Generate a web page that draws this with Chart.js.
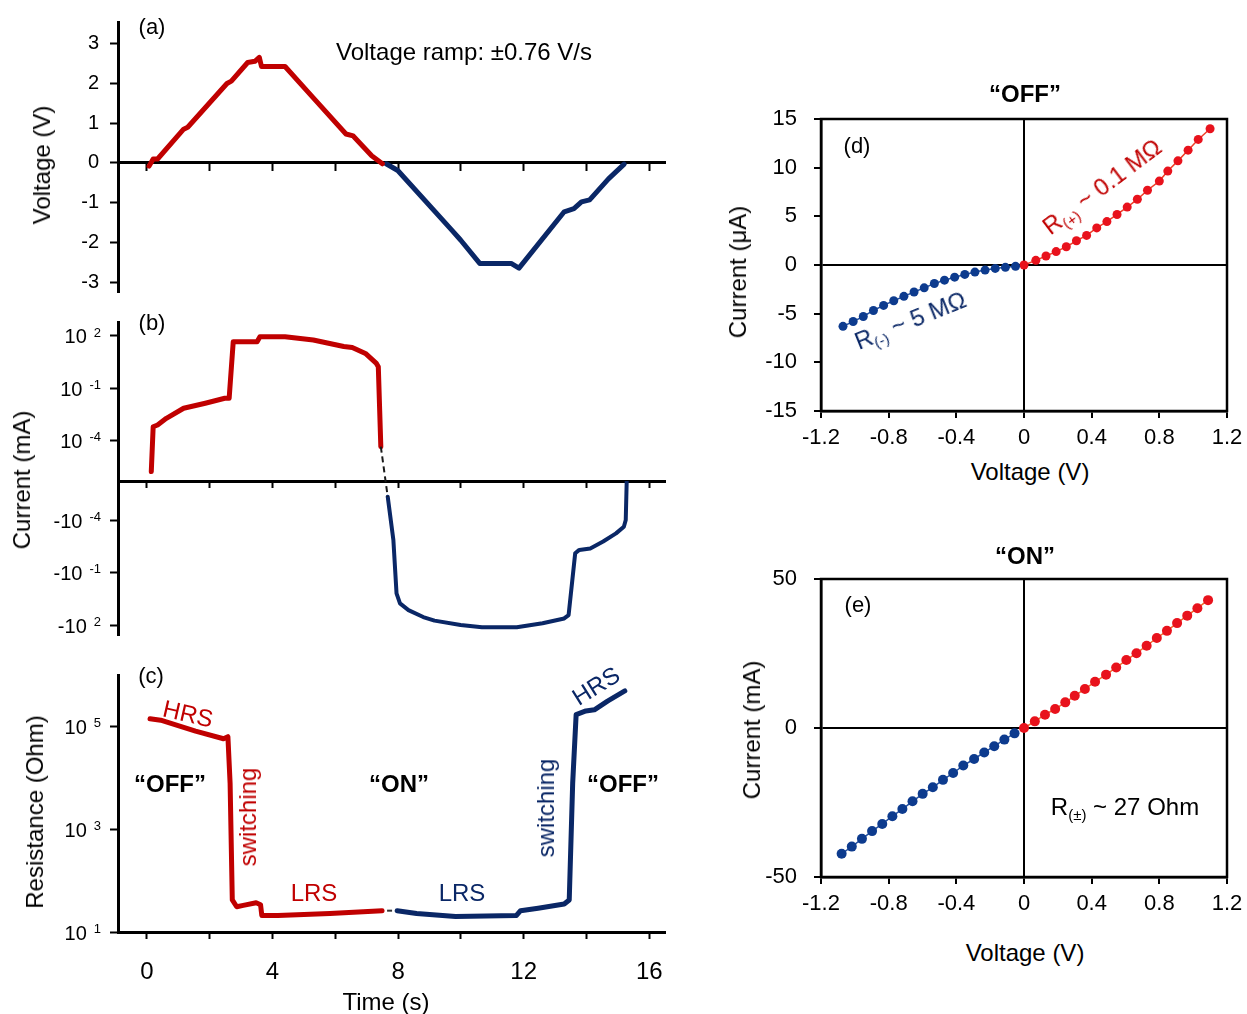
<!DOCTYPE html>
<html>
<head>
<meta charset="utf-8">
<script src="https://cdn.jsdelivr.net/npm/chart.js@4.4.1/dist/chart.umd.min.js"></script>
<style>
  body { margin: 0; background: #fff; }
  #wrap { position: relative; width: 1247px; height: 1014px; overflow: hidden; font-family: "Liberation Sans", Arial, sans-serif; }
  #wrap canvas { position: absolute; }
  .lab { position: absolute; transform: translate(-50%, -50%); white-space: nowrap; font-size: 24px; line-height: 1; color: #000; }
  .rot { transform: translate(-50%, -50%) rotate(-90deg); }
  .bold { font-weight: bold; }
  .red { color: #c00000; }
  .navy { color: #0a2766; }
  sub { font-size: 15px; vertical-align: -5px; }
</style>
</head>
<body>
<div id="wrap">
  <canvas id="cA" width="680" height="300" style="left:0;top:0"></canvas>
  <canvas id="cB1" width="680" height="220" style="left:0;top:300px"></canvas>
  <canvas id="cB2" width="680" height="170" style="left:0;top:481px"></canvas>
  <canvas id="cC" width="680" height="364" style="left:0;top:650px"></canvas>
  <canvas id="cD" width="547" height="356" style="left:700px;top:100px"></canvas>
  <canvas id="cE" width="547" height="362" style="left:700px;top:560px"></canvas>

  <!-- panel a -->
  <div class="lab" style="left:152px;top:27px;font-size:22px">(a)</div>
  <div class="lab" style="left:464px;top:52px">Voltage ramp: ±0.76 V/s</div>
  <div class="lab rot" style="left:42px;top:165px">Voltage (V)</div>
  <!-- panel b -->
  <div class="lab" style="left:152px;top:323px;font-size:22px">(b)</div>
  <div class="lab rot" style="left:22px;top:480px">Current (mA)</div>
  <!-- panel c -->
  <div class="lab" style="left:151px;top:676px;font-size:22px">(c)</div>
  <div class="lab rot" style="left:35px;top:812px">Resistance (Ohm)</div>
  <div class="lab" style="left:386px;top:1002px">Time (s)</div>
  <div class="lab red" style="left:188px;top:714px;transform:translate(-50%,-50%) rotate(13deg)">HRS</div>
  <div class="lab bold" style="left:170px;top:784px">“OFF”</div>
  <div class="lab red rot" style="left:248px;top:817px">switching</div>
  <div class="lab red" style="left:314px;top:893px">LRS</div>
  <div class="lab bold" style="left:399px;top:784px">“ON”</div>
  <div class="lab navy" style="left:462px;top:893px">LRS</div>
  <div class="lab navy rot" style="left:546px;top:808px">switching</div>
  <div class="lab navy" style="left:596px;top:686px;transform:translate(-50%,-50%) rotate(-32deg)">HRS</div>
  <div class="lab bold" style="left:623px;top:784px">“OFF”</div>
  <!-- panel d -->
  <div class="lab bold" style="left:1025px;top:94px">“OFF”</div>
  <div class="lab" style="left:857px;top:146px;font-size:22px">(d)</div>
  <div class="lab rot" style="left:738px;top:272px">Current (μA)</div>
  <div class="lab" style="left:1030px;top:472px">Voltage (V)</div>
  <div class="lab red" style="left:1103px;top:188px;transform:translate(-50%,-50%) rotate(-37deg)">R<sub>(+)</sub> ~ 0.1 MΩ</div>
  <div class="lab navy" style="left:911px;top:322px;transform:translate(-50%,-50%) rotate(-22deg)">R<sub>(-)</sub> ~ 5 MΩ</div>
  <!-- panel e -->
  <div class="lab bold" style="left:1025px;top:556px">“ON”</div>
  <div class="lab" style="left:858px;top:605px;font-size:22px">(e)</div>
  <div class="lab rot" style="left:752px;top:730px">Current (mA)</div>
  <div class="lab" style="left:1025px;top:953px">Voltage (V)</div>
  <div class="lab" style="left:1125px;top:808px">R<sub>(±)</sub> ~ 27 Ohm</div>
</div>

<script>
// ---- data ----
// (a) voltage vs time
const aTimeRed = [0.07, 0.2, 0.34, 1.17, 1.3, 2.55, 2.69, 3.21, 3.44, 3.58, 3.65, 4.4, 5.3, 6.34, 6.57, 7.16, 7.5];
const aVoltRed = [-0.08, 0.1, 0.1, 0.85, 0.9, 2.0, 2.06, 2.53, 2.56, 2.66, 2.43, 2.43, 1.64, 0.73, 0.68, 0.18, -0.02];
const aTimeBlue = [7.62, 7.99, 9.71, 9.99, 10.6, 11.6, 11.85, 13.29, 13.6, 13.84, 14.1, 14.7, 15.2];
const aVoltBlue = [-0.02, -0.19, -1.69, -1.94, -2.53, -2.53, -2.65, -1.23, -1.15, -0.98, -0.93, -0.4, -0.03];

// (b) current (mA) vs time
const bTimeRed = [0.14, 0.2, 0.34, 0.62, 1.17, 1.86, 2.48, 2.62, 2.75, 3.51, 3.6, 4.4, 5.3, 6.27, 6.54, 6.96, 7.3, 7.37, 7.45];
const bCurRed = [1.7e-6, 6.3e-4, 7.9e-4, 1.9e-3, 7.2e-3, 1.4e-2, 2.7e-2, 2.7e-2, 47, 47, 91, 91, 59, 25, 22, 10, 2.8, 1.7, 4.6e-5];
const bTimeBlue = [7.67, 7.85, 7.95, 8.06, 8.33, 8.8, 9.16, 9.99, 10.67, 11.78, 12.6, 13.29, 13.43, 13.64, 13.77, 14.12, 14.53, 14.94, 15.19, 15.25, 15.28];
const bCurBlue = [-4.7e-6, -1.4e-3, -1.55, -5.8, -14, -35, -56, -100, -135, -135, -79, -42, -27, -7.9e-3, -5.1e-3, -4.2e-3, -1.7e-3, -5.8e-4, -2.4e-4, -1.0e-4, -6.5e-7];

// (c) resistance (Ohm) vs time
const cTimeRed = [0.1, 0.44, 1.55, 2.44, 2.58, 2.65, 2.72, 2.86, 3.07, 3.48, 3.62, 3.66, 4.17, 5.83, 7.49];
const cResRed = [1.41e5, 1.32e5, 8.1e4, 5.75e4, 6.3e4, 7.9e3, 42, 31, 33, 37, 34, 21, 21, 23, 26];
const cTimeBlue = [7.97, 8.59, 9.83, 11.77, 11.9, 12.46, 13.29, 13.45, 13.56, 13.67, 13.98, 14.25, 14.67, 15.22];
const cResBlue = [26, 23, 20, 21, 26, 29, 35, 42, 7.9e3, 1.7e5, 2.0e5, 2.1e5, 3.1e5, 4.9e5];

// (d) "OFF" I-V, current in uA
const dVoltRed = [0, 0.07, 0.13, 0.19, 0.25, 0.31, 0.37, 0.43, 0.49, 0.55, 0.61, 0.67, 0.73, 0.8, 0.85, 0.91, 0.97, 1.03, 1.1];
const dCurRed = [0, 0.48, 0.93, 1.38, 1.87, 2.49, 3.04, 3.81, 4.46, 5.19, 5.95, 6.75, 7.68, 8.62, 9.65, 10.7, 11.8, 12.9, 14.0];
const dVoltBlue = [-1.07, -1.01, -0.95, -0.89, -0.83, -0.77, -0.71, -0.65, -0.59, -0.53, -0.47, -0.41, -0.35, -0.29, -0.23, -0.17, -0.11, -0.05];
const dCurBlue = [-6.3, -5.81, -5.29, -4.67, -4.15, -3.67, -3.22, -2.77, -2.35, -1.9, -1.56, -1.25, -0.97, -0.73, -0.52, -0.35, -0.24, -0.14];

// (e) "ON" I-V, current in mA
const eVoltRed = [0, 0.064, 0.124, 0.184, 0.244, 0.3, 0.36, 0.42, 0.485, 0.545, 0.605, 0.665, 0.725, 0.785, 0.845, 0.905, 0.965, 1.025, 1.088];
const eCurRed = [0, 2.23, 4.47, 6.37, 8.6, 10.8, 13.1, 15.5, 17.9, 20.3, 22.8, 25.1, 27.6, 30.2, 32.6, 35.2, 37.7, 40.2, 42.9];
const eVoltBlue = [-1.078, -1.018, -0.958, -0.898, -0.838, -0.778, -0.719, -0.659, -0.599, -0.539, -0.479, -0.419, -0.359, -0.295, -0.235, -0.176, -0.116, -0.056];
const eCurBlue = [-42.2, -39.8, -37.2, -34.6, -32.2, -29.6, -27.2, -24.6, -22.1, -19.9, -17.4, -15.1, -12.6, -10.4, -8.2, -6.1, -3.9, -1.8];

// tick lists
const timeTicks = [0, 2, 4, 6, 8, 10, 12, 14, 16];
const aTicksY = [-3, -2, -1, 0, 1, 2, 3];
const bTicksPos = [1e2, 1e-1, 1e-4];
const bTicksNeg = [1e-4, 1e-1, 1e2];   // magnitudes, drawn as -10^n
const cTicksY = [1e1, 1e3, 1e5];
const ivTicksX = [-1.2, -0.8, -0.4, 0, 0.4, 0.8, 1.2];
const dTicksY = [-15, -10, -5, 0, 5, 10, 15];
const eTicksY = [-50, 0, 50];

// ---- styling ----
const FONT = '"Liberation Sans", Arial, Helvetica, sans-serif';
const RED = '#c00000', NAVY = '#0a2766';
const PT_RED = '#e8121c', PT_BLUE = '#0d3b8e';

Chart.defaults.font.family = FONT;
Chart.defaults.color = '#000';
Chart.defaults.animation = false;
Chart.defaults.responsive = false;
Chart.defaults.plugins.legend.display = false;
Chart.defaults.plugins.tooltip.enabled = false;
Chart.defaults.elements.point.radius = 0;
Chart.defaults.elements.line.tension = 0;

const setTicks = list => s => { s.ticks = list.map(v => ({ value: v })); };
// fixed axis sizes, and no extra room for overhanging labels
const fixWidth = w => s => { s.width = w; s.paddingTop = 0; s.paddingBottom = 0; };
const fixHeight = h => s => { s.height = h; s.paddingLeft = 0; s.paddingRight = 0; };
const pts = (xs, ys) => xs.map((x, i) => ({ x, y: ys[i] }));

// 10^n labels with a raised exponent
const powerTicks = {
  id: 'powerTicks',
  afterDraw(chart, args, opts) {
    const sc = chart.scales[opts.scale];
    const ctx = chart.ctx;
    const right = sc.right - 17;
    ctx.save();
    ctx.fillStyle = '#000';
    ctx.textAlign = 'right';
    ctx.textBaseline = 'middle';
    sc.ticks.forEach(tk => {
      const y = sc.getPixelForValue(tk.value);
      const exp = String(Math.round(Math.log10(tk.value)));
      ctx.font = '13px ' + FONT;
      const w = ctx.measureText(exp).width;
      ctx.fillText(exp, right, y - 3);
      ctx.font = '20px ' + FONT;
      ctx.fillText(opts.prefix, right - w - 7, y + 2);
    });
    ctx.restore();
  }
};

// box around the I-V plots
const frame = {
  id: 'frame',
  beforeDatasetsDraw(chart) {
    const { ctx, chartArea: a } = chart;
    ctx.save();
    ctx.strokeStyle = '#000';
    ctx.lineWidth = 2.5;
    ctx.strokeRect(a.left, a.top, a.right - a.left, a.bottom - a.top);
    ctx.restore();
  }
};

function timeAxis(extra) {
  return Object.assign({
    type: 'linear', min: -0.92, max: 16.5, bounds: 'data',
    afterBuildTicks: setTicks(timeTicks),
    border: { color: '#000', width: 3 },
    grid: { drawOnChartArea: false, tickLength: 7, tickColor: '#000', tickWidth: 2 },
    ticks: { display: false }
  }, extra);
}

function leftAxis(extra) {
  return Object.assign({
    position: 'left', bounds: 'data',
    afterFit: fixWidth(118),
    border: { color: '#000', width: 3 },
    grid: { drawOnChartArea: false, tickLength: 8, tickColor: '#000', tickWidth: 2 },
    ticks: { display: false }
  }, extra);
}

const thick = (data, color, w) => ({
  data, borderColor: color, borderWidth: w || 5, borderCapStyle: 'round', borderJoinStyle: 'round'
});

// (a)
new Chart(document.getElementById('cA'), {
  type: 'line',
  data: { datasets: [thick(pts(aTimeRed, aVoltRed), RED), thick(pts(aTimeBlue, aVoltBlue), NAVY)] },
  options: {
    layout: { padding: { top: 22, right: 15, bottom: 8, left: 0 } },
    scales: {
      x: timeAxis({ position: { y: 0 }, afterFit: fixHeight(0) }),
      y: leftAxis({
        type: 'linear', min: -3.25, max: 3.55,
        afterBuildTicks: setTicks(aTicksY),
        ticks: { font: { size: 20 }, color: '#000', padding: 11, callback: v => String(v) }
      })
    }
  }
});

// (b) upper half: positive current
const bPosMin = 10 ** -6.31, bPosMax = 10 ** 2.8;
const bNegMin = 10 ** -6.23, bNegMax = 10 ** 2.57;
// dashed bridge between last positive and first negative sample
const redEnd = bCurRed[bCurRed.length - 1], tRedEnd = bTimeRed[bTimeRed.length - 1];
const blueStart = Math.abs(bCurBlue[0]), tBlueStart = bTimeBlue[0];
const sTop = Math.log10(redEnd / bPosMin);
const sBot = Math.log10(blueStart / bNegMin);
const gapStyle = { borderColor: '#1a1a1a', borderWidth: 2, borderDash: [6, 4] };

new Chart(document.getElementById('cB1'), {
  type: 'line',
  data: { datasets: [
    Object.assign({ data: [{ x: tRedEnd, y: redEnd }, { x: tBlueStart, y: bPosMin / 10 ** sBot }] }, gapStyle),
    thick(pts(bTimeRed, bCurRed), RED)
  ] },
  options: {
    layout: { padding: { top: 22, right: 15, bottom: 0, left: 0 } },
    scales: {
      x: timeAxis({ position: 'bottom', afterFit: fixHeight(39) }),
      y: leftAxis({ type: 'logarithmic', min: bPosMin, max: bPosMax, afterBuildTicks: setTicks(bTicksPos) })
    },
    plugins: { powerTicks: { scale: 'y', prefix: '10' } }
  },
  plugins: [powerTicks]
});

// (b) lower half: negative current, plotted by magnitude on a reversed log axis
new Chart(document.getElementById('cB2'), {
  type: 'line',
  data: { datasets: [
    Object.assign({ data: [{ x: tRedEnd, y: bNegMin / 10 ** sTop }, { x: tBlueStart, y: blueStart }] }, gapStyle),
    thick(pts(bTimeBlue, bCurBlue.map(Math.abs)), NAVY, 4)
  ] },
  options: {
    layout: { padding: { top: 0, right: 15, bottom: 16, left: 0 } },
    scales: {
      x: timeAxis({ display: false }),
      y: leftAxis({ type: 'logarithmic', reverse: true, min: bNegMin, max: bNegMax, afterBuildTicks: setTicks(bTicksNeg) })
    },
    plugins: { powerTicks: { scale: 'y', prefix: '-10' } }
  },
  plugins: [powerTicks]
});

// (c)
new Chart(document.getElementById('cC'), {
  type: 'line',
  data: { datasets: [
    thick(pts(cTimeRed, cResRed), RED),
    Object.assign({ data: [{ x: cTimeRed[cTimeRed.length - 1], y: cResRed[cResRed.length - 1] }, { x: cTimeBlue[0], y: cResBlue[0] }], borderDashOffset: 5 },
      { borderColor: '#333', borderWidth: 2, borderDash: [5, 5] }),
    thick(pts(cTimeBlue, cResBlue), NAVY)
  ] },
  options: {
    layout: { padding: { top: 25, right: 15, bottom: 0, left: 0 } },
    scales: {
      x: timeAxis({
        position: 'bottom', afterFit: fixHeight(82),
        ticks: { display: true, font: { size: 24 }, color: '#000', padding: 19, maxRotation: 0, autoSkip: false,
          callback: v => (v % 4 === 0 ? String(v) : '') }
      }),
      y: leftAxis({ type: 'logarithmic', min: 10, max: 1e6, afterBuildTicks: setTicks(cTicksY) })
    },
    plugins: { powerTicks: { scale: 'y', prefix: '10' } }
  },
  plugins: [powerTicks]
});

// (d), (e) I-V plots
function ivAxes(yMin, yMax, yTicks) {
  const zeroGrid = {
    color: c => (c.tick && c.tick.value === 0 ? '#000' : 'rgba(0,0,0,0)'),
    lineWidth: 2, tickLength: 7, tickColor: '#000', tickWidth: 2
  };
  return {
    x: {
      type: 'linear', position: 'bottom', min: -1.2, max: 1.2, bounds: 'data',
      afterBuildTicks: setTicks(ivTicksX), afterFit: fixHeight(45),
      border: { color: '#000', width: 2.5 }, grid: zeroGrid,
      ticks: { font: { size: 22 }, color: '#000', padding: 7, maxRotation: 0, autoSkip: false, callback: v => String(v) }
    },
    y: {
      type: 'linear', position: 'left', min: yMin, max: yMax, bounds: 'data',
      afterBuildTicks: setTicks(yTicks), afterFit: fixWidth(121),
      border: { color: '#000', width: 2.5 }, grid: zeroGrid,
      ticks: { font: { size: 22 }, color: '#000', padding: 17, callback: v => String(v) }
    }
  };
}

const dotted = (data, ptColor, lineColor, r) => ({
  data, showLine: true, borderColor: lineColor, borderWidth: 1.5,
  pointRadius: r, pointBackgroundColor: ptColor, pointBorderWidth: 0
});

new Chart(document.getElementById('cD'), {
  type: 'line',
  data: { datasets: [
    dotted(pts(dVoltBlue, dCurBlue), PT_BLUE, '#2450a0', 4.5),
    dotted(pts(dVoltRed, dCurRed), PT_RED, '#f0402a', 4.5)
  ] },
  options: {
    layout: { padding: { top: 19, right: 20, bottom: 0, left: 0 } },
    scales: ivAxes(-15, 15, dTicksY)
  },
  plugins: [frame]
});

new Chart(document.getElementById('cE'), {
  type: 'line',
  data: { datasets: [
    dotted(pts(eVoltBlue, eCurBlue), PT_BLUE, '#2450a0', 5),
    dotted(pts(eVoltRed, eCurRed), PT_RED, '#f06a2a', 5)
  ] },
  options: {
    layout: { padding: { top: 19, right: 20, bottom: 0, left: 0 } },
    scales: ivAxes(-50, 50, eTicksY)
  },
  plugins: [frame]
});
</script>
</body>
</html>
